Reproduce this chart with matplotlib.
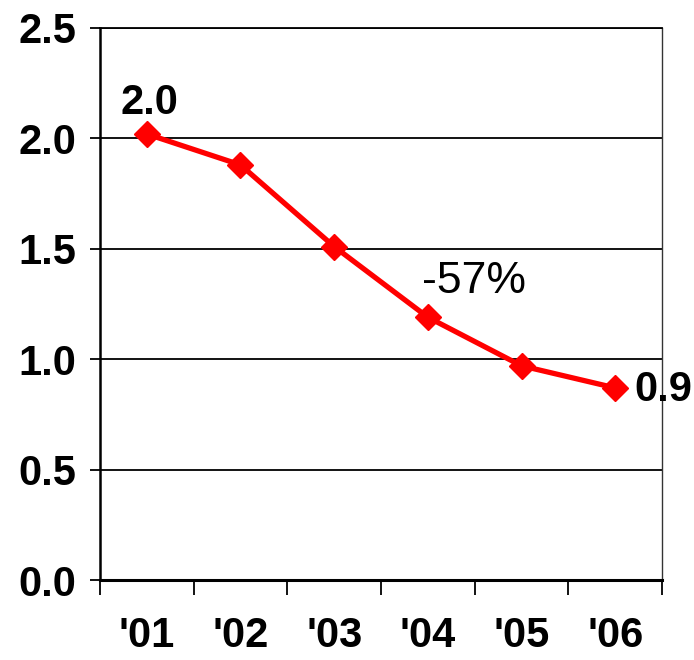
import matplotlib
matplotlib.use("Agg")
from matplotlib import pyplot as plt
from matplotlib.ticker import FixedLocator

years = ["'01", "'02", "'03", "'04", "'05", "'06"]
values = [2.02, 1.88, 1.51, 1.19, 0.97, 0.87]
first_label = "2.0"
last_label = "0.9"
change_label = "-57%"

plt.rcParams['font.family'] = ['Liberation Sans', 'DejaVu Sans']

fig = plt.figure(figsize=(6.94, 6.6), dpi=100)
ax = fig.add_axes([0.144, 0.1212, 0.81, 0.8364])

x = list(range(len(years)))
ax.plot(x, values, color='#ff0000', lw=3.8, marker='D', ms=13,
        markeredgecolor='#ff0000', zorder=3, clip_on=False)

ax.set_xlim(-0.5, len(years) - 0.5)
ax.set_ylim(0, 2.5)
ax.set_yticks([0, 0.5, 1.0, 1.5, 2.0, 2.5])
ax.set_yticklabels([f"{v:.1f}" for v in [0, 0.5, 1.0, 1.5, 2.0, 2.5]])
ax.yaxis.grid(True, color='black', lw=1.3)
ax.set_axisbelow(True)

ax.set_xticks(x)
ax.set_xticklabels(years)
ax.xaxis.set_minor_locator(FixedLocator([i - 0.5 for i in range(len(years) + 1)]))
ax.tick_params(axis='x', which='major', length=0, pad=26)
ax.tick_params(axis='x', which='minor', length=11, width=1.3, direction='out')
ax.tick_params(axis='y', length=7, width=1.3, direction='out', pad=10)
for lab in ax.get_xticklabels() + ax.get_yticklabels():
    lab.set_fontsize(30)
    lab.set_fontweight('bold')

ax.spines['left'].set_linewidth(1.8)
ax.spines['bottom'].set_linewidth(2.2)
ax.spines['right'].set_linewidth(1.0)
ax.spines['right'].set_color('#333333')
ax.spines['top'].set_linewidth(1.3)

ax.text(0.03, 2.16, first_label, fontsize=30, fontweight='bold',
        ha='center', va='center')
ax.text(5.2, 0.86, last_label, fontsize=30, fontweight='bold',
        ha='left', va='center', clip_on=False)
ax.text(3.49, 1.35, change_label, fontsize=32, ha='center', va='center')

fig.savefig("out.png", dpi=100)
